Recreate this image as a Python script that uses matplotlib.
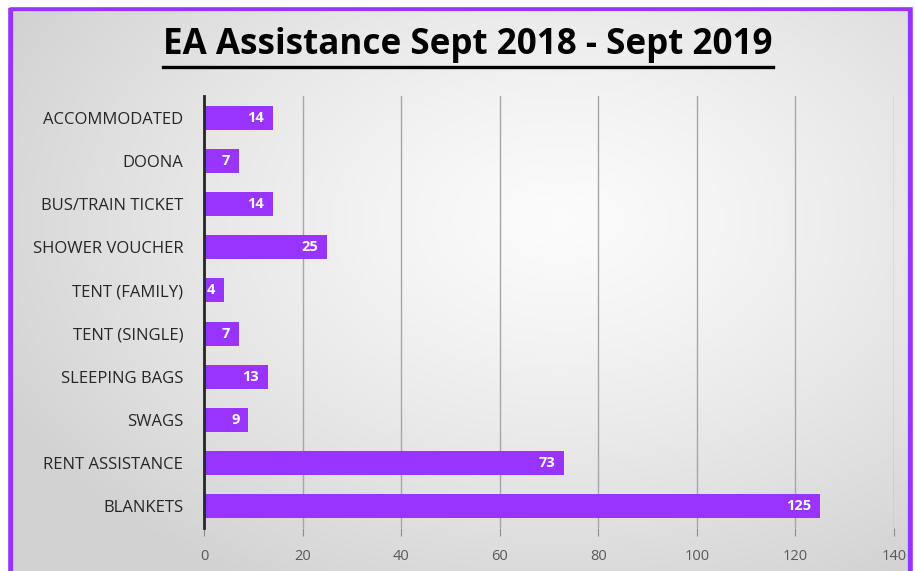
import matplotlib
matplotlib.use("Agg")
import matplotlib.pyplot as plt
import numpy as np
from matplotlib.patches import Rectangle

categories = ["ACCOMMODATED", "DOONA", "BUS/TRAIN TICKET", "SHOWER VOUCHER",
              "TENT (FAMILY)", "TENT (SINGLE)", "SLEEPING BAGS", "SWAGS",
              "RENT ASSISTANCE", "BLANKETS"]
values = [14, 7, 14, 25, 4, 7, 13, 9, 73, 125]
xticks = [0, 20, 40, 60, 80, 100, 120, 140]
title = "EA Assistance Sept 2018 - Sept 2019"

W, H = 915, 571
fig = plt.figure(figsize=(W / 100, H / 100), dpi=100)
fig.patch.set_facecolor("white")

# background gradient panel
bg = fig.add_axes([0, 0, 1, 1], zorder=0)
bg.set_axis_off()
yy, xx = np.mgrid[0:H, 0:W]
cx, cy = 560, 220
r = np.sqrt(((xx - cx) / 620.0) ** 2 + ((yy - cy) / 420.0) ** 2)
r = np.clip(r, 0, 1)
val = 0.985 - 0.16 * r ** 1.3
img = np.dstack([val, val, val])
bg.imshow(img, extent=[0, W, H, 0], aspect="auto")
bg.set_xlim(0, W)
bg.set_ylim(H, 0)
# purple frame
bg.add_patch(Rectangle((9.5, 8), 901, 580, fill=False, edgecolor="#9933FF", linewidth=4.5))
# white outside
bg.add_patch(Rectangle((0, 0), 7, H, color="white"))
bg.add_patch(Rectangle((0, 0), W, 5.5, color="white"))
bg.add_patch(Rectangle((913, 0), 5, H, color="white"))

ax = fig.add_axes([204 / W, 1 - 528 / H, (894 - 204) / W, (528 - 96) / H], zorder=1)
ax.patch.set_alpha(0)
y = np.arange(len(categories))
bars = ax.barh(y, values, height=0.56, color="#9933FF", zorder=3)
ax.set_ylim(len(categories) - 0.5, -0.5)
ax.set_xlim(0, 140)
ax.set_xticks(xticks)
ax.set_xticklabels([str(t) for t in xticks], color="#595959", fontsize=10.5, fontfamily="Open Sans")
ax.set_yticks(y)
ax.set_yticklabels(categories, color="#262626", fontsize=12, fontfamily="Open Sans")
ax.tick_params(axis="y", length=0, pad=15)
ax.tick_params(axis="x", length=6, color="#8c8c8c", pad=9)
ax.grid(axis="x", color="#a6a6a6", linewidth=1, zorder=1)
for s in ["top", "right", "bottom"]:
    ax.spines[s].set_visible(False)
ax.spines["left"].set_color("#262626")
ax.spines["left"].set_linewidth(2)
ax.spines["left"].set_zorder(4)

for b, v in zip(bars, values):
    ax.text(v - 1.8, b.get_y() + b.get_height() / 2, str(v), ha="right", va="center",
            color="white", fontsize=10.5, fontweight="bold", fontfamily="Open Sans", zorder=5)

t = fig.text(468 / W, 1 - 45 / H, title, ha="center", va="center", fontsize=25.2,
             fontweight="bold", fontfamily="Open Sans", color="black")
fig.canvas.draw()
bb = t.get_window_extent()
fig.add_artist(plt.Line2D([bb.x0 / W, bb.x1 / W], [(H - 67) / H, (H - 67) / H],
                          color="black", linewidth=2.4, transform=fig.transFigure))

fig.savefig("out.png", dpi=100)
